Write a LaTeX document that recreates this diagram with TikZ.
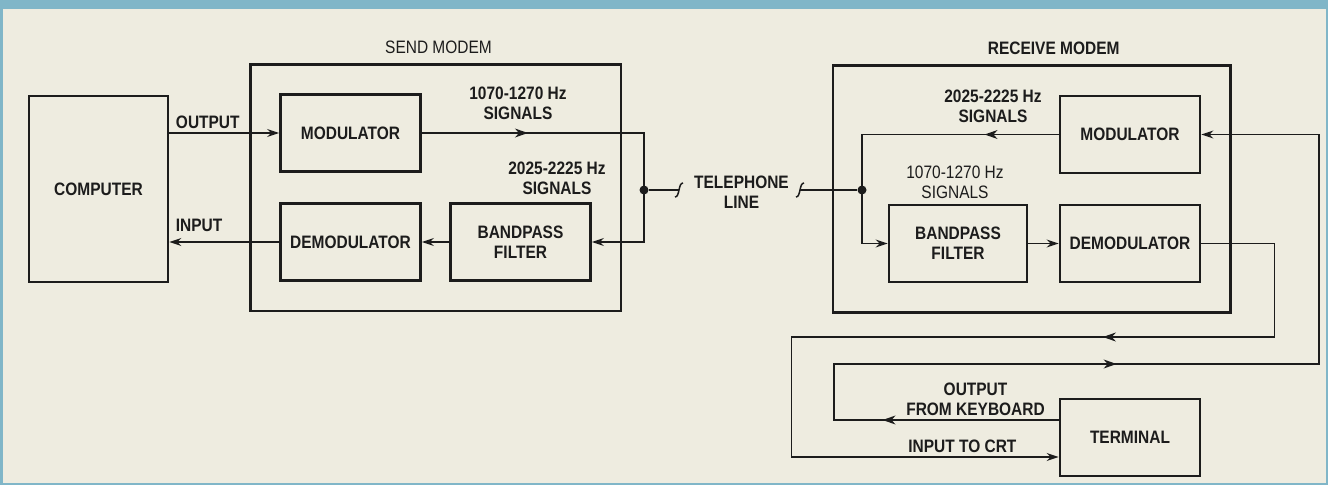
\documentclass[tikz,border=0pt]{standalone}
\usepackage{fontspec}
\setmainfont{Liberation Sans}[FakeStretch=0.86]
\usepackage{tikz}
\usetikzlibrary{arrows.meta,positioning,calc,fit,decorations.markings}

\definecolor{paper}{RGB}{238,236,224}
\definecolor{edgeblue}{RGB}{128,182,200}
\definecolor{ink}{RGB}{28,28,28}

\begin{document}
\begin{tikzpicture}[
    x=1pt, y=-1pt,
    node distance=109pt,
    font=\fontsize{18}{20}\selectfont\bfseries,
    every node/.style={text=ink},
    block/.style={rectangle, draw=ink, line width=2.8pt, minimum width=140pt, minimum height=77pt, inner sep=0pt, align=center},
    modem/.style={rectangle, draw=ink, line width=2.8pt, inner sep=29pt},
    note/.style={align=center, inner sep=0pt},
    junction/.style={circle, fill=ink, minimum size=9pt, inner sep=0pt},
    wire/.style={draw=ink, line width=1.5pt},
    arrow/.style={draw=ink, line width=1.5pt, -{Stealth[length=12pt,width=8pt]}},
    midarrow/.style={postaction={decorate, decoration={markings, mark=at position #1 with {\arrow[ink]{Stealth[length=13pt,width=9pt]}}}}}
]

% Page
\fill[edgeblue] (0,0) rectangle (1328,485);
\fill[paper] (3,9) rectangle (1326,483);
\useasboundingbox (0,0) rectangle (1328,485);

% Computer
\node[block, minimum width=139pt, minimum height=186pt] (computer) at (98.5,189) {COMPUTER};

% Send modem
\node[block] (smod) at (350.5,133) {MODULATOR};
\node[block, below of=smod] (sdemod) {DEMODULATOR};
\node[block, right of=sdemod, xshift=61pt] (sfilter) {BANDPASS\\FILTER};
\node[modem, fit=(smod)(sdemod)(sfilter)] (sendbox) {};
\node[note, above=9pt of sendbox, xshift=3pt, font=\fontsize{18}{20}\selectfont\mdseries] (sendname) {SEND MODEM};

% Receive modem
\node[block] (rmod) at (1130,134.5) {MODULATOR};
\node[block, below of=rmod] (rdemod) {DEMODULATOR};
\node[block, left of=rdemod, xshift=-63pt, minimum width=138pt] (rfilter) {BANDPASS\\FILTER};
\node[junction] (rdot) at (862,190) {};
\node[modem, fit=(rmod)(rdemod)(rfilter)(rdot.center)] (recvbox) {};
\node[note, above=9pt of recvbox, xshift=22pt] (recvname) {RECEIVE MODEM};

% Terminal
\node[block, below of=rdemod, yshift=-85pt] (terminal) {TERMINAL};

% Telephone line
\node[junction] (sdot) at (644,190) {};
\coordinate (brkL) at (679,190);
\coordinate (brkR) at (800,190);
\node[note] (telline) at ($(brkL)!0.5!(brkR)+(2,2)$) {TELEPHONE\\LINE};

% Signal labels
\node[note] (sfreq1) at (518,103.5) {1070-1270 Hz\\SIGNALS};
\node[note] (sfreq2) at (557,178) {2025-2225 Hz\\SIGNALS};
\node[note] (rfreq2) at (993,106.5) {2025-2225 Hz\\SIGNALS};
\node[note, font=\fontsize{18}{20}\selectfont\mdseries] (rfreq1) at (955,182.5) {1070-1270 Hz\\SIGNALS};

% Connections
\draw[arrow] (computer.east |- smod.west) -- (smod.west) node[pos=0.35, above] (outlbl) {OUTPUT};
\draw[arrow] (sdemod.west) -- (computer.east |- sdemod.west) node[pos=0.73, above=6pt] (inlbl) {INPUT};
\draw[arrow] (sfilter.west) -- (sdemod.east);
\draw[arrow, midarrow=106pt] (smod.east) -| (sdot.center) |- (sfilter.east);

\draw[wire] (sdot) -- (brkL);
\draw[wire] (brkR) -- (rdot);
\draw[wire] ($(brkL)+(-4,7)$) .. controls ($(brkL)+(1,7)$) and ($(brkL)+(-1,-7)$) .. ($(brkL)+(4,-7)$);
\draw[wire] ($(brkR)+(-4,7)$) .. controls ($(brkR)+(1,7)$) and ($(brkR)+(-1,-7)$) .. ($(brkR)+(4,-7)$);

\draw[arrow, midarrow=74pt] (rmod.west) -| (rdot.center) |- (rfilter.west);
\draw[arrow] (rfilter.east) -- (rdemod.west);

\draw[arrow, midarrow=338pt] (rdemod.east) -- ++(73,0) -- ++(0,93.5) -- ++(-483,0)
    |- node[pos=0.82, above] (crtlbl) {INPUT TO CRT} ($(terminal.west)+(0,19.5)$);
\draw[arrow, midarrow=176pt, midarrow=563pt] ($(terminal.west)+(0,-17.5)$)
    -- node[pos=0.37, above, align=center] (keylbl) {OUTPUT\\FROM KEYBOARD} ++(-224.5,0)
    -- ++(0,-56) -- ++(485,0) |- (rmod.east);

\end{tikzpicture}
\end{document}
